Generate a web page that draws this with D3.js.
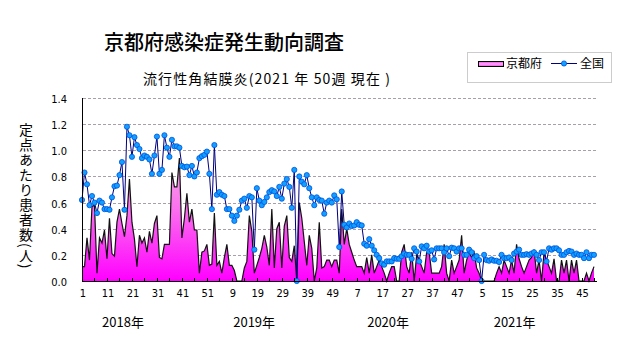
<!DOCTYPE html>
<html><head><meta charset="utf-8">
<script src="https://cdn.jsdelivr.net/npm/d3@7/dist/d3.min.js"></script>
<style>
body{margin:0;background:#fff;}
svg{display:block;}
.jp{font-family:"Noto Sans CJK JP","Noto Sans",sans-serif;}
.num{font-family:"Liberation Sans Narrow","DejaVu Sans Condensed","Liberation Sans",sans-serif;font-stretch:condensed;}
</style></head><body>
<svg id="c" width="631" height="347"></svg>
<script>
// 京都府 (Kyoto) weekly values per sentinel, by year
const kyoto2018=[0.11,0.11,0.33,0.16,0.57,0.58,0.06,0.33,0.29,0.39,0.17,0.48,0.21,0.19,0.45,0.55,0.44,0.34,0.50,0.78,0.45,0.32,0.11,0.35,0.29,0.33,0.22,0.38,0.29,0.44,0.50,0.18,0.17,0.28,0.28,0.28,0.83,0.72,0.72,0.94,0.33,0.48,0.67,0.45,0.55,0.39,0.39,0.06,0.22,0.23,0.28,0.12];
const kyoto2019=[0.13,0.52,0.12,0.15,0.06,0.18,0.28,0.12,0.12,0.08,0.0,0.0,0.0,0.10,0.15,0.50,0.38,0.06,0.12,0.18,0.25,0.35,0.26,0.12,0.55,0.10,0.40,0.45,0.10,0.42,0.50,0.18,0.15,0.27,0.0,0.60,0.48,0.30,0.12,0.35,0.25,0.0,0.10,0.45,0.10,0.11,0.16,0.16,0.11,0.16,0.16,0.06];
const kyoto2020=[0.55,0.28,0.40,0.28,0.22,0.16,0.11,0.11,0.11,0.06,0.18,0.06,0.20,0.06,0.11,0.16,0.11,0.06,0.0,0.06,0.11,0.11,0.0,0.0,0.22,0.28,0.11,0.06,0.22,0.0,0.20,0.16,0.11,0.06,0.22,0.22,0.06,0.06,0.06,0.06,0.11,0.28,0.06,0.0,0.16,0.06,0.11,0.16,0.35,0.06,0.16,0.22];
const kyoto2021=[0.18,0.22,0.10,0.06,0,0,0,0,0,0,0.06,0.11,0.06,0.16,0.11,0.06,0.16,0.06,0.28,0.17,0.11,0.06,0.11,0.16,0.18,0.24,0.06,0.16,0.0,0.22,0.16,0.11,0.06,0.17,0.0,0.0,0.16,0.06,0.16,0.0,0.16,0.06,0.16,0.0,0.0,0.0,0.06,0.0,0.06,0.11];
// 全国 (national)
const nation2018=[0.62,0.83,0.74,0.58,0.65,0.60,0.52,0.615,0.60,0.55,0.55,0.545,0.64,0.725,0.73,0.81,0.91,0.545,1.18,1.115,0.95,1.10,1.04,1.01,0.94,0.96,0.95,0.93,0.82,0.96,1.105,0.82,0.85,1.115,1.02,0.95,1.08,1.03,1.03,1.02,0.88,0.87,0.875,0.81,0.88,0.80,0.83,0.94,0.955,0.965,0.99,0.82];
const nation2019=[0.55,1.04,0.66,0.68,0.66,0.65,0.55,0.55,0.50,0.46,0.50,0.545,0.615,0.63,0.56,0.65,0.64,0.24,0.71,0.615,0.58,0.605,0.64,0.68,0.695,0.685,0.65,0.72,0.63,0.745,0.78,0.72,0.56,0.85,0.0,0.80,0.76,0.74,0.81,0.71,0.64,0.58,0.64,0.62,0.615,0.515,0.60,0.615,0.60,0.655,0.625,0.26];
const nation2020=[0.685,0.43,0.41,0.44,0.42,0.425,0.45,0.43,0.425,0.285,0.27,0.32,0.27,0.235,0.20,0.175,0.135,0.125,0.15,0.15,0.15,0.175,0.17,0.17,0.19,0.21,0.20,0.20,0.17,0.25,0.225,0.15,0.265,0.25,0.27,0.225,0.235,0.165,0.25,0.25,0.25,0.22,0.25,0.19,0.255,0.25,0.225,0.25,0.25,0.20,0.20,0.24];
const nation2021=[0.22,0.175,0.19,0.16,0.0,0.20,0.16,0.155,0.165,0.155,0.155,0.145,0.20,0.175,0.175,0.18,0.16,0.21,0.225,0.24,0.20,0.20,0.205,0.20,0.21,0.22,0.20,0.16,0.22,0.22,0.15,0.25,0.24,0.25,0.25,0.235,0.20,0.20,0.22,0.23,0.225,0.20,0.21,0.20,0.20,0.175,0.22,0.175,0.20,0.20];
const yearLabels=["2018年","2019年","2020年","2021年"];
const yearLengths=[52,52,52,50];
const tickIdx=[1,11,21,31,41,51,61,71,81,91,101,111,121,131,141,151,161,171,181,191,201];
const tickLabels=["1","11","21","31","41","51","9","19","29","39","49","7","17","27","37","47","5","15","25","35","45"];
const yTicks=[0,0.2,0.4,0.6,0.8,1.0,1.2,1.4];

const kyoto=[].concat(kyoto2018,kyoto2019,kyoto2020,kyoto2021);
const nation=[].concat(nation2018,nation2019,nation2020,nation2021);
const N=kyoto.length;
const data=kyoto.map((v,i)=>({i:i+1,k:v,n:nation[i]}));

const svg=d3.select("#c");
const x=d3.scaleLinear().domain([1,N]).range([82,594]);
const y=d3.scaleLinear().domain([0,1.4]).range([281,98]);
const plotR=597;

const defs=svg.append("defs");
const g1=defs.append("linearGradient").attr("id","pk").attr("gradientUnits","userSpaceOnUse")
  .attr("x1",0).attr("x2",0).attr("y1",y(1.0)).attr("y2",y(0));
g1.append("stop").attr("offset",0).attr("stop-color","#f2b0e0");
g1.append("stop").attr("offset",0.45).attr("stop-color","#fb70ee");
g1.append("stop").attr("offset",1).attr("stop-color","#ff00ff");
const g2=defs.append("linearGradient").attr("id","lg").attr("x1",0).attr("x2",0).attr("y1",0).attr("y2",1);
g2.append("stop").attr("offset",0).attr("stop-color","#ff40ff");
g2.append("stop").attr("offset",0.5).attr("stop-color","#f8b0e8");
g2.append("stop").attr("offset",1).attr("stop-color","#ff40ff");

// gridlines
svg.append("g").selectAll("line").data(yTicks.filter(d=>d>0)).join("line")
  .attr("x1",83).attr("x2",plotR).attr("y1",d=>Math.round(y(d))+0.5).attr("y2",d=>Math.round(y(d))+0.5)
  .attr("stroke","#a8a0a8").attr("stroke-width",1).attr("stroke-dasharray","3,2");

// area
svg.append("path").datum(data)
  .attr("d",d3.area().x(d=>x(d.i)).y0(y(0)).y1(d=>y(d.k)))
  .attr("fill","url(#pk)");
svg.append("path").datum(data)
  .attr("d",d3.line().x(d=>x(d.i)).y(d=>y(d.k)))
  .attr("fill","none").attr("stroke","#111").attr("stroke-width",1.2);

// national line
svg.append("path").datum(data)
  .attr("d",d3.line().x(d=>x(d.i)).y(d=>y(d.n)))
  .attr("fill","none").attr("stroke","#000080").attr("stroke-width",1);
svg.append("g").selectAll("circle").data(data).join("circle")
  .attr("cx",d=>x(d.i)).attr("cy",d=>y(d.n)).attr("r",2.6)
  .attr("fill","#10a0ff").attr("stroke","#0050e0").attr("stroke-width",0.8);

// axes
svg.append("line").attr("x1",82.5).attr("x2",82.5).attr("y1",98).attr("y2",281.5).attr("stroke","#000");
svg.append("line").attr("x1",82).attr("x2",plotR).attr("y1",281.5).attr("y2",281.5).attr("stroke","#000");
svg.append("g").selectAll("line").data(d3.range(1,N+1,5)).join("line")
  .attr("x1",d=>Math.round(x(d))+0.5).attr("x2",d=>Math.round(x(d))+0.5)
  .attr("y1",281).attr("y2",278).attr("stroke","#000");

// y tick labels
svg.append("g").selectAll("text").data(yTicks).join("text").attr("class","num")
  .attr("x",67).attr("y",d=>y(d)+5).attr("text-anchor","end")
  .attr("font-size",11).attr("fill","#000").text(d=>d.toFixed(1));

// x tick labels
svg.append("g").selectAll("text").data(tickIdx).join("text").attr("class","num")
  .attr("x",d=>x(d)+1).attr("y",297).attr("text-anchor","middle")
  .attr("font-size",11).attr("fill","#000").text((d,i)=>tickLabels[i]);

// year labels
let start=1;
const yearCenters=yearLengths.map(l=>{const c=start+(l-1)/2; start+=l; return c;});
const yearShift=[-22.7,-21.4,-17.3,-18.2];
svg.append("g").selectAll("text").data(yearLabels).join("text").attr("class","jp")
  .attr("x",(d,i)=>x(yearCenters[i])+yearShift[i]).attr("y",327).attr("text-anchor","middle")
  .attr("font-size",13).attr("fill","#000").text(d=>d);

// titles
svg.append("text").attr("class","jp").attr("x",224).attr("y",50).attr("text-anchor","middle")
  .attr("font-size",20).attr("font-weight",500).attr("fill","#000").text("京都府感染症発生動向調査");
svg.append("text").attr("class","jp").attr("x",143).attr("y",84)
  .attr("font-size",14).attr("fill","#000").attr("textLength",247).attr("lengthAdjust","spacing")
  .text("流行性角結膜炎(2021 年 50週 現在 )");

// y axis title (vertical)
svg.append("text").attr("class","jp").attr("x",26).attr("y",123)
  .attr("font-size",14).attr("fill","#000")
  .style("writing-mode","vertical-rl").style("letter-spacing","1px")
  .text("定点あたり患者数(人)");

// legend
const lg=svg.append("g");
lg.append("rect").attr("x",467.5).attr("y",52.5).attr("width",144).attr("height",30)
  .attr("fill","#fff").attr("stroke","#999").attr("stroke-dasharray","1,1");
lg.append("rect").attr("x",478.5).attr("y",61.5).attr("width",25).attr("height",5)
  .attr("fill","url(#lg)").attr("stroke","#000").attr("stroke-width",1);
lg.append("text").attr("class","jp").attr("x",506).attr("y",68).attr("font-size",12).attr("fill","#000").text("京都府");
lg.append("line").attr("x1",551).attr("x2",577).attr("y1",63.5).attr("y2",63.5).attr("stroke","#000080");
lg.append("circle").attr("cx",564).attr("cy",63.5).attr("r",2.6).attr("fill","#10a0ff").attr("stroke","#0050e0").attr("stroke-width",0.8);
lg.append("text").attr("class","jp").attr("x",580).attr("y",68).attr("font-size",12).attr("fill","#000").text("全国");
</script>
</body></html>
